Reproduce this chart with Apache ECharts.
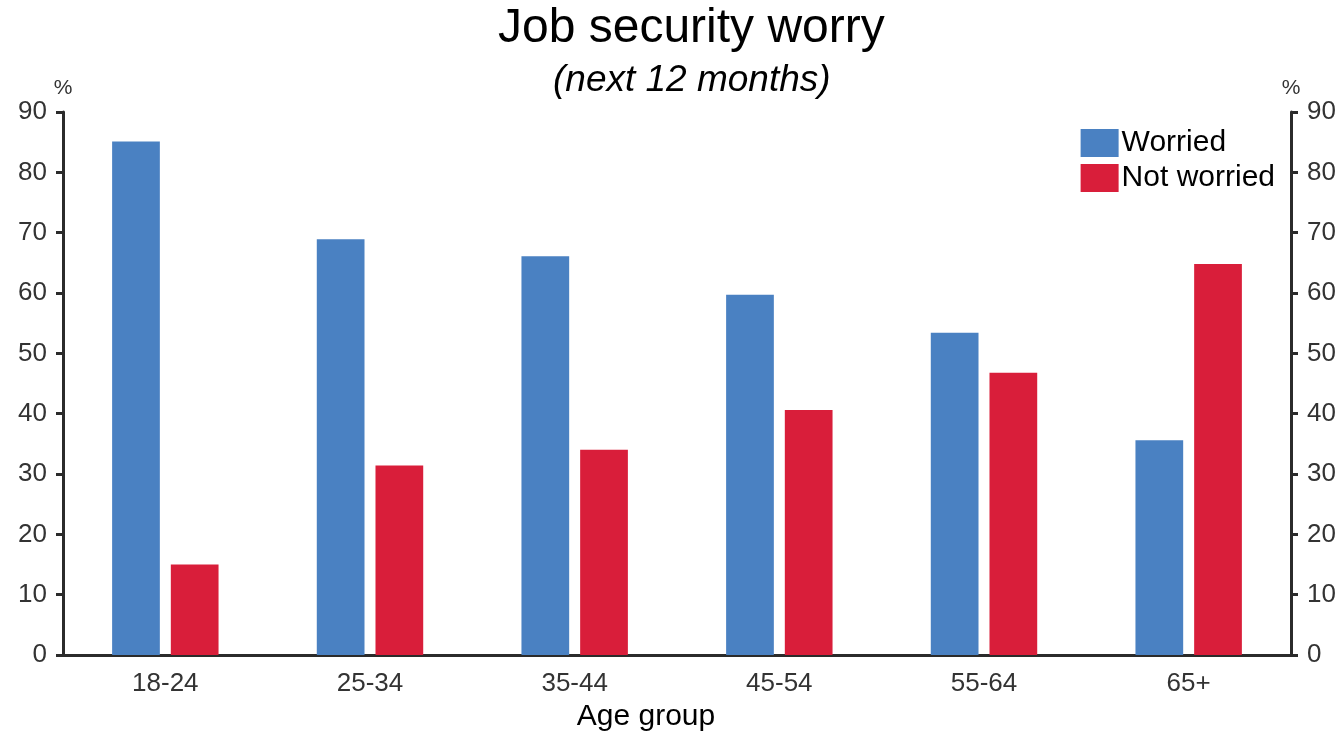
<!DOCTYPE html>
<html>
<head>
<meta charset="utf-8">
<script src="https://cdn.jsdelivr.net/npm/echarts@6/dist/echarts.min.js"></script>
<style>
  html, body { margin: 0; padding: 0; background: #fff; overflow: hidden; }
  #chart { width: 1341px; height: 737px; }
</style>
</head>
<body>
<div id="chart"></div>
<script>
// chart data
const categories = ['18-24', '25-34', '35-44', '45-54', '55-64', '65+']
const worried = [85.1, 68.9, 66.1, 59.7, 53.4, 35.6]
const notWorried = [15.0, 31.4, 34.0, 40.6, 46.8, 64.8]
const yTicks = { min: 0, max: 90, interval: 10 }

const font = 'Liberation Sans, Arial, sans-serif'
const axisColor = '#2b2b2b'

const chart = echarts.init(document.getElementById('chart'))

// left and right y axes share the same scale
const yAxisBase = {
  type: 'value',
  min: yTicks.min,
  max: yTicks.max,
  interval: yTicks.interval,
  name: '%',
  nameLocation: 'end',
  nameGap: 13,
  nameTextStyle: { color: '#333', fontSize: 21, fontFamily: font },
  axisLine: { show: true, lineStyle: { color: axisColor, width: 3 } },
  axisTick: { show: true, length: 7, lineStyle: { color: axisColor, width: 3 } },
  axisLabel: { color: '#333', fontSize: 26, fontFamily: font, margin: 16 },
  splitLine: { show: false }
}

chart.setOption({
  backgroundColor: '#fff',
  animation: false,
  title: [{
    text: 'Job security worry',
    left: 493,
    top: 0,
    textStyle: { color: '#000', fontSize: 48, fontWeight: 'normal', fontFamily: font }
  }, {
    text: '(next 12 months)',
    left: 548,
    top: 57,
    textStyle: { color: '#000', fontSize: 37, fontStyle: 'italic', fontWeight: 'normal', fontFamily: font }
  }],
  legend: {
    right: 61,
    top: 123,
    orient: 'vertical',
    itemWidth: 38,
    itemHeight: 28,
    itemGap: 5,
    icon: 'rect',
    textStyle: { color: '#000', fontSize: 30, fontFamily: font, padding: [0, 0, 0, -2] },
    data: ['Worried', 'Not worried']
  },
  grid: {
    left: 63,
    right: 50,
    top: 112,
    bottom: 77,
    containLabel: false
  },
  xAxis: {
    type: 'category',
    data: categories,
    name: 'Age group',
    nameLocation: 'middle',
    nameGap: 47,
    nameTextStyle: { color: '#000', fontSize: 30, fontFamily: font, padding: [0, 62, 0, 0] },
    axisLine: { lineStyle: { color: axisColor, width: 3 } },
    axisTick: { alignWithLabel: true, length: 7, lineStyle: { color: axisColor, width: 3 } },
    axisLabel: { color: '#333', fontSize: 26, fontFamily: font, margin: 16 }
  },
  yAxis: [
    Object.assign({}, yAxisBase, { position: 'left' }),
    Object.assign({}, yAxisBase, { position: 'right' })
  ],
  series: [{
    name: 'Worried',
    type: 'bar',
    yAxisIndex: 0,
    barGap: '23%',
    barCategoryGap: '48%',
    itemStyle: { color: '#4a81c2' },
    data: worried
  }, {
    name: 'Not worried',
    type: 'bar',
    yAxisIndex: 0,
    itemStyle: { color: '#d91e3a' },
    data: notWorried
  }]
})
</script>
</body>
</html>
